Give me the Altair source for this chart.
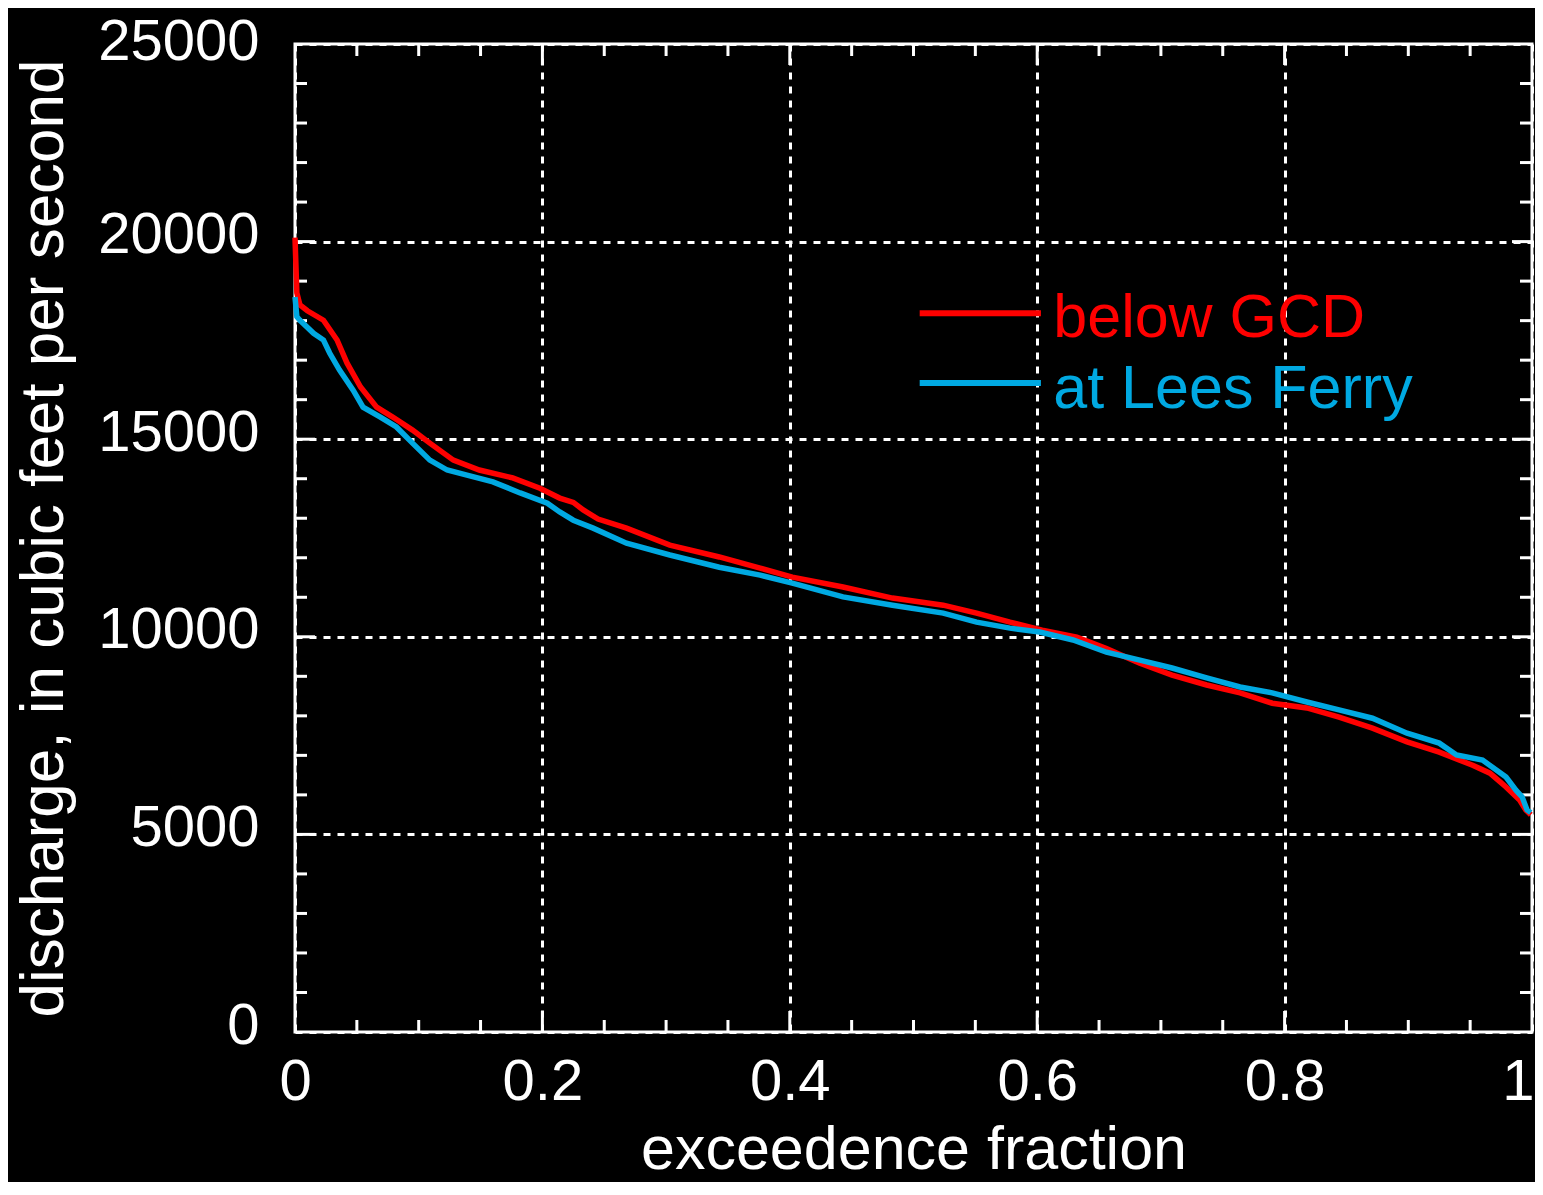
import altair as alt
import pandas as pd

# ---- data ----
series_names = ["below GCD", "at Lees Ferry"]
series_colors = ["#FF0000", "#00A9E2"]

red_x = [0, 0.0015, 0.004, 0.01, 0.023, 0.034, 0.042, 0.053, 0.066, 0.079,
         0.095, 0.109, 0.128, 0.149, 0.176, 0.198, 0.214, 0.225, 0.233, 0.245,
         0.268, 0.303, 0.343, 0.376, 0.402, 0.443, 0.483, 0.524, 0.551, 0.578,
         0.604, 0.632, 0.656, 0.683, 0.709, 0.737, 0.764, 0.790, 0.818, 0.844,
         0.871, 0.899, 0.925, 0.952, 0.966, 0.979, 0.990, 0.995, 0.999]
red_y = [20100, 18700, 18400, 18250, 18010, 17510, 16930, 16320, 15810, 15560,
         15230, 14900, 14470, 14220, 14020, 13760, 13510, 13400, 13210, 12980,
         12750, 12320, 12020, 11740, 11510, 11260, 10980, 10800, 10600, 10370,
         10170, 9990, 9700, 9330, 9030, 8780, 8580, 8320, 8200, 7970,
         7690, 7340, 7080, 6750, 6550, 6200, 5870, 5620, 5500]

cyan_x = [0, 0.0015, 0.004, 0.015, 0.023, 0.028, 0.036, 0.047, 0.055, 0.069,
          0.082, 0.095, 0.109, 0.123, 0.139, 0.160, 0.182, 0.204, 0.214, 0.225,
          0.241, 0.268, 0.303, 0.343, 0.376, 0.402, 0.443, 0.483, 0.524, 0.551,
          0.578, 0.602, 0.629, 0.656, 0.683, 0.709, 0.737, 0.764, 0.790, 0.818,
          0.844, 0.871, 0.899, 0.925, 0.939, 0.960, 0.979, 0.987, 0.992, 0.996,
          0.999]
cyan_y = [18600, 18100, 18010, 17680, 17510, 17180, 16750, 16240, 15810, 15560,
          15310, 14900, 14470, 14220, 14090, 13920, 13640, 13380, 13160, 12950,
          12750, 12370, 12070, 11760, 11560, 11360, 11010, 10800, 10600, 10370,
          10220, 10120, 9920, 9610, 9410, 9210, 8960, 8730, 8580, 8350,
          8150, 7940, 7560, 7310, 7010, 6880, 6450, 6120, 5950, 5620,
          5550]

x_labels = [0, 0.2, 0.4, 0.6, 0.8, 1]
y_labels = [0, 5000, 10000, 15000, 20000, 25000]
x_major_ticks = [0.2, 0.4, 0.6, 0.8]
x_minor_ticks = [0.05, 0.1, 0.15, 0.25, 0.3, 0.35, 0.45, 0.5, 0.55,
                 0.65, 0.7, 0.75, 0.85, 0.9, 0.95]
y_major_ticks = [5000, 10000, 15000, 20000]
y_minor_ticks = [1000, 2000, 3000, 4000, 6000, 7000, 8000, 9000,
                 11000, 12000, 13000, 14000, 16000, 17000, 18000, 19000,
                 21000, 22000, 23000, 24000]

legend_line_x = [0.505, 0.603]
legend_line_y = [18190, 16420]
legend_text_x = [0.613, 0.613]
legend_text_y = [17590, 15790]

# ---- layout constants ----
W, H = 1237, 988
FONT = "Liberation Sans"

red_df = pd.DataFrame({"x": red_x, "y": red_y, "name": series_names[0]})
cyan_df = pd.DataFrame({"x": cyan_x, "y": cyan_y, "name": series_names[1]})
leg_line_df = pd.DataFrame({"x": [legend_line_x[0]] * 2, "x2": [legend_line_x[1]] * 2,
                            "y": legend_line_y, "name": series_names})
leg_text_df = pd.DataFrame({"x": legend_text_x, "y": legend_text_y, "name": series_names})

x_axis = alt.Axis(
    values=x_labels, format="~g", title="exceedence fraction",
    grid=True, gridColor="white", gridDash=[7, 7], gridWidth=3, gridOpacity=1,
    ticks=False, tickSize=0, domain=False,
    labelColor="white", labelFont=FONT, labelFontSize=58, labelPadding=21,
    labelFlush=False, labelOverlap=False,
    labelAlign=alt.expr("datum.value == 1 ? 'right' : 'center'"),
    labelOffset=alt.expr("datum.value == 1 ? 2 : 0"),
    labelBaseline="top",
    titleColor="white", titleFont=FONT, titleFontSize=61, titleFontWeight="normal",
    titleX=W / 2, titleY=136, titleBaseline="alphabetic", titleAlign="center",
)
y_axis = alt.Axis(
    values=y_labels, format="d", title="discharge, in cubic feet per second",
    grid=True, gridColor="white", gridDash=[7, 7], gridWidth=3, gridOpacity=1,
    ticks=False, tickSize=0, domain=False,
    labelColor="white", labelFont=FONT, labelFontSize=58, labelPadding=36,
    labelOffset=alt.expr("datum.value == 25000 ? -2 : -6"),
    labelFlush=False, labelOverlap=False,
    labelAlign="right", labelBaseline="middle",
    titleColor="white", titleFont=FONT, titleFontSize=62, titleFontWeight="normal",
    titleAngle=270, titleX=-233, titleY=H / 2, titleBaseline="alphabetic",
    titleAlign="center",
)

xs = alt.Scale(domain=[0, 1], nice=False, zero=False)
ys = alt.Scale(domain=[0, 25000], nice=False, zero=False)
X = alt.X("x:Q", scale=xs, axis=x_axis)
Y = alt.Y("y:Q", scale=ys, axis=y_axis)
C = alt.Color("name:N", scale=alt.Scale(domain=series_names, range=series_colors), legend=None)

red_line = alt.Chart(red_df).mark_line(strokeWidth=5.5, strokeCap="butt").encode(x=X, y=Y, color=C)
cyan_line = alt.Chart(cyan_df).mark_line(strokeWidth=5.5, strokeCap="butt").encode(x=X, y=Y, color=C)

def yticks(vals, length):
    df = pd.DataFrame({"y": vals})
    left = alt.Chart(df).mark_rule(color="white", strokeWidth=3).encode(
        y=Y, x=alt.value(0), x2=alt.value(length))
    right = alt.Chart(df).mark_rule(color="white", strokeWidth=3).encode(
        y=Y, x=alt.value(W - length), x2=alt.value(W))
    return [left, right]

def xticks(vals, length):
    df = pd.DataFrame({"x": vals})
    bottom = alt.Chart(df).mark_rule(color="white", strokeWidth=3).encode(
        x=X, y=alt.value(H - length), y2=alt.value(H))
    top = alt.Chart(df).mark_rule(color="white", strokeWidth=3).encode(
        x=X, y=alt.value(0), y2=alt.value(length))
    return [bottom, top]

tick_layers = (yticks(y_minor_ticks, 12) + yticks(y_major_ticks, 20)
               + xticks(x_minor_ticks, 12) + xticks(x_major_ticks, 21))

leg_lines = alt.Chart(leg_line_df).mark_rule(strokeWidth=6).encode(
    x=X, x2="x2:Q", y=Y, color=C)
leg_text = alt.Chart(leg_text_df).mark_text(
    align="left", baseline="alphabetic", font=FONT, fontSize=61).encode(
    x=X, y=Y, text="name:N", color=C)

chart = alt.layer(
    *tick_layers, red_line, cyan_line, leg_lines, leg_text
).properties(
    width=W, height=H,
    padding={"left": 287, "top": 36, "right": 3, "bottom": 150},
    autosize=alt.AutoSizeParams(type="none"),
    background="black",
).configure_view(
    stroke="white", strokeWidth=3
)

chart.save("out.html", embed_options={"renderer": "svg", "actions": False})
